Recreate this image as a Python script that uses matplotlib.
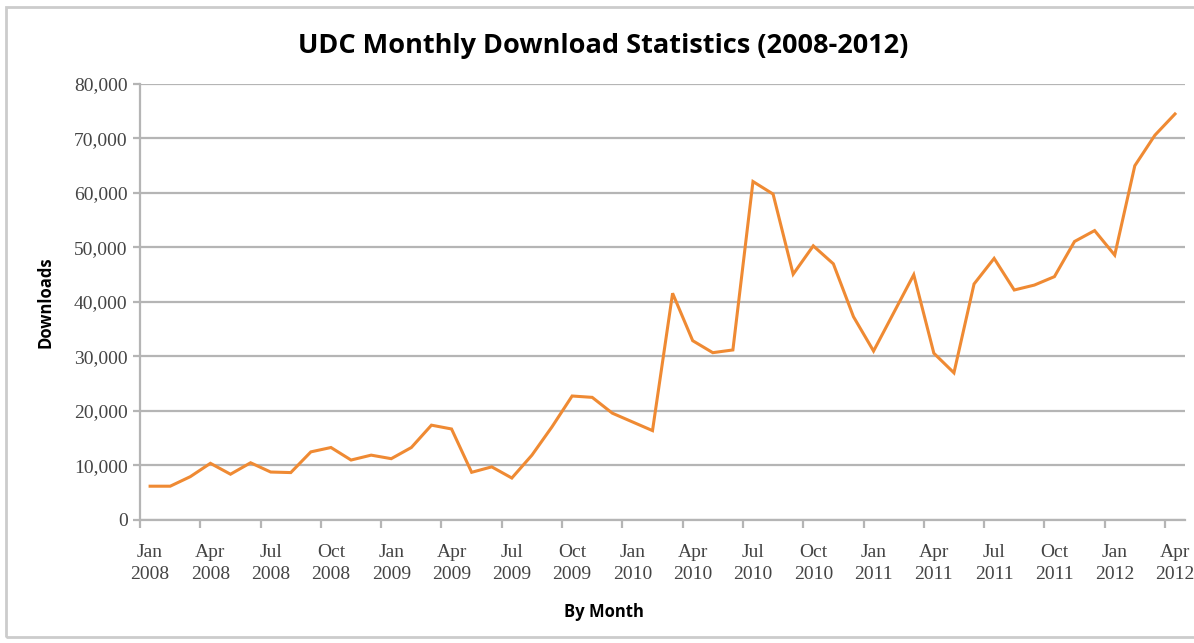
import numpy as np
import matplotlib.pyplot as plt
from matplotlib.patches import Rectangle

# monthly downloads, Jan 2008 .. Apr 2012
months = ['Jan', 'Feb', 'Mar', 'Apr', 'May', 'Jun', 'Jul', 'Aug', 'Sep', 'Oct', 'Nov', 'Dec']
years = [2008, 2009, 2010, 2011, 2012]
downloads = [
    6200, 6200, 7950, 10400, 8400, 10500, 8800, 8700, 12500, 13300, 11000, 11900,
    11250, 13300, 17400, 16700, 8750, 9750, 7700, 11900, 17100, 22750, 22500, 19600,
    18000, 16400, 41600, 32900, 30700, 31200, 62100, 59800, 45100, 50300, 47000, 37300,
    31000, 38000, 45000, 30600, 27000, 43300, 48000, 42200, 43100, 44650, 51100, 53100,
    48600, 65000, 70600, 74500,
]

labels = []
for y in years:
    for m in months:
        labels.append(m + "\n" + str(y))
labels = labels[:len(downloads)]

fig = plt.figure(figsize=(11.94, 6.43), dpi=100)
ax = fig.add_axes([0.1173, 0.1913, 0.8752, 0.6781])

x = np.arange(len(downloads))
ax.plot(x, downloads, color='#EF8A33', lw=2.2, solid_joinstyle='miter', zorder=3)

ax.set_xlim(-0.5, len(downloads) - 0.5)
ax.set_ylim(0, 80000)

# gridlines
ax.set_yticks(np.arange(0, 80001, 10000))
ax.set_yticklabels(['{:,}'.format(v) for v in range(0, 80001, 10000)],
                   family='Liberation Serif', fontsize=14, color='#444444')
ax.grid(axis='y', color='#B5B5B5', lw=1.6, zorder=1)
ax.tick_params(axis='y', length=5, width=1.6, color='#B5B5B5', pad=4)

# category axis: ticks between categories, labels at every 3rd category
ax.set_xticks(np.arange(-0.5, len(downloads), 3), minor=False)
ax.set_xticklabels([])
ax.tick_params(axis='x', which='major', length=6, width=1.6, color='#B5B5B5')
ax.set_xticks(x[::3], minor=True)
ax.set_xticklabels(labels[::3], minor=True, family='Liberation Serif', fontsize=14,
                   color='#444444', linespacing=1.45)
ax.tick_params(axis='x', which='minor', length=0, pad=17)

for side in ['top', 'right']:
    ax.spines[side].set_visible(False)
for side in ['left', 'bottom']:
    ax.spines[side].set_color('#B5B5B5')
    ax.spines[side].set_linewidth(1.6)

fig.text(0.5055, 0.928, 'UDC Monthly Download Statistics (2008-2012)', ha='center', va='center',
         family='Open Sans', fontweight='bold', fontsize=19.5)
fig.text(0.5055, 0.048, 'By Month', ha='center', va='center',
         family='Open Sans', fontweight='bold', fontsize=12)
fig.text(0.038, 0.53, 'Downloads', ha='center', va='center', rotation=90,
         family='Open Sans', fontweight='bold', fontsize=12)

# frame round the picture (open on the right)
fig.patches.append(Rectangle((0.005, 0.009), 1.1, 0.98, transform=fig.transFigure,
                             fill=False, edgecolor='#CCCCCC', lw=2, zorder=0))

plt.savefig('out.png', dpi=100)
